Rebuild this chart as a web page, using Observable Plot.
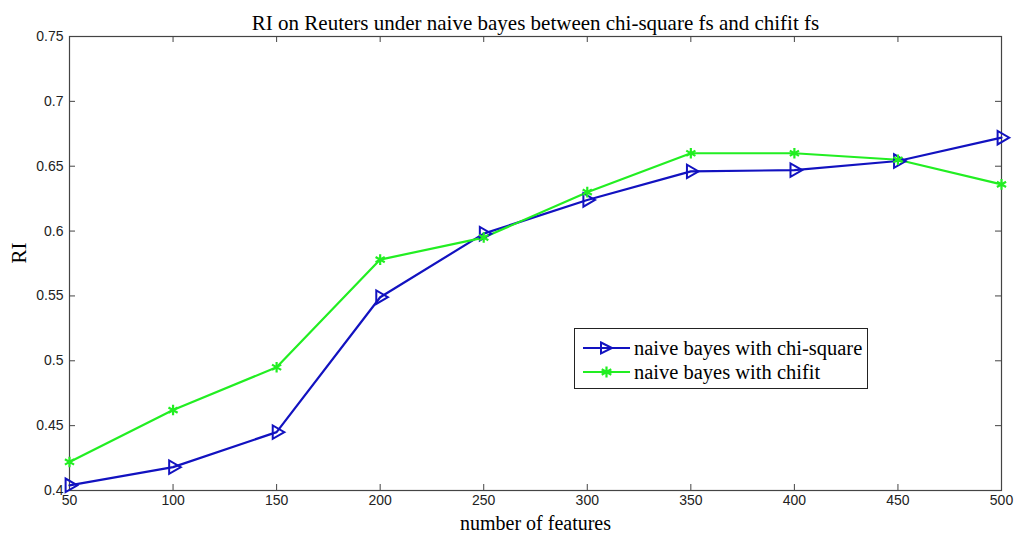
<!DOCTYPE html>
<html>
<head>
<meta charset="utf-8">
<script src="https://cdn.jsdelivr.net/npm/d3@7"></script>
<script src="https://cdn.jsdelivr.net/npm/@observablehq/plot@0.6"></script>
<style>
  html, body { margin: 0; padding: 0; background: #fff; }
  #wrap { position: relative; width: 1016px; height: 542px; }
  #legend {
    position: absolute; left: 574px; top: 328px; width: 294px; height: 61px;
    border: 1px solid #222; background: #fff; box-sizing: border-box;
    font-family: "Liberation Serif", "Times New Roman", serif; font-size: 20.5px; color: #000;
  }
  .row { position: absolute; left: 8px; height: 20px; display: flex; align-items: center; white-space: nowrap; }
  .row svg { margin-right: 4px; flex: none; }
</style>
</head>
<body>
<div id="wrap"></div>
<script>
// Number of selected features (x axis)
const features = [50, 100, 150, 200, 250, 300, 350, 400, 450, 500];
// RI of naive bayes with chi-square feature selection
const chiSquare = [0.404, 0.418, 0.445, 0.549, 0.598, 0.624, 0.646, 0.647, 0.654, 0.672];
// RI of naive bayes with chifit feature selection
const chifit = [0.422, 0.462, 0.495, 0.578, 0.595, 0.630, 0.660, 0.660, 0.655, 0.636];

const xTicks = [50, 100, 150, 200, 250, 300, 350, 400, 450, 500];
const yTicks = [0.4, 0.45, 0.5, 0.55, 0.6, 0.65, 0.7, 0.75];

const blue = "#1212c0";
const green = "#22ee22";
const serif = "'Liberation Serif', 'Times New Roman', serif";

const chiRows = features.map((f, i) => ({f, v: chiSquare[i]}));
const fitRows = features.map((f, i) => ({f, v: chifit[i]}));

const W = 1016, H = 542;
const mL = 69, mR = 15, mT = 36, mB = 52;
const pw = W - mL - mR, ph = H - mT - mB;
const tick = 6;

const chart = Plot.plot({
  width: W, height: H,
  marginLeft: mL, marginRight: mR, marginTop: mT, marginBottom: mB,
  style: {fontFamily: "'Liberation Sans', Arial, sans-serif", fontSize: "14px", color: "#222", background: "#fff"},
  x: {domain: [50, 500]},
  y: {domain: [0.4, 0.75]},
  marks: [
    Plot.frame({stroke: "#444", strokeWidth: 1.2}),
    // inward tick marks on all four sides
    Plot.tickX(xTicks, {x: d => d, insetTop: ph - tick, stroke: "#444"}),
    Plot.tickX(xTicks, {x: d => d, insetBottom: ph - tick, stroke: "#444"}),
    Plot.tickY(yTicks, {y: d => d, insetRight: pw - tick, stroke: "#444"}),
    Plot.tickY(yTicks, {y: d => d, insetLeft: pw - tick, stroke: "#444"}),
    Plot.axisX({ticks: xTicks, tickSize: 0, tickPadding: 5, label: null, fill: "#222"}),
    Plot.axisY({ticks: yTicks, tickSize: 0, tickPadding: 6, label: null, tickFormat: d => String(+d.toFixed(2)), fill: "#222"}),
    // series
    Plot.line(chiRows, {x: "f", y: "v", stroke: blue, strokeWidth: 2.2}),
    Plot.line(fitRows, {x: "f", y: "v", stroke: green, strokeWidth: 2.2}),
    Plot.dot(chiRows, {x: "f", y: "v", symbol: "triangle", rotate: 90, r: 5, stroke: blue, strokeWidth: 2, fill: "none"}),
    Plot.dot(fitRows, {x: "f", y: "v", symbol: "asterisk", r: 5, stroke: green, strokeWidth: 2.2}),
    // titles
    Plot.text(["RI on Reuters under naive bayes between chi-square fs and chifit fs"], {
      frameAnchor: "top", dy: -21, fontSize: 21, fontFamily: serif, fill: "#000"
    }),
    Plot.text(["number of features"], {
      frameAnchor: "bottom", dy: 39, fontSize: 20, fontFamily: serif, fill: "#000"
    }),
    Plot.text(["RI"], {
      frameAnchor: "left", dx: -50, rotate: -90, fontSize: 21, fontFamily: serif, fill: "#000"
    })
  ]
});

const wrap = document.getElementById("wrap");
wrap.appendChild(chart);

// legend box
const legend = document.createElement("div");
legend.id = "legend";
const entries = [
  {label: "naive bayes with chi-square", color: blue, kind: "tri", top: 9},
  {label: "naive bayes with chifit", color: green, kind: "ast", top: 33}
];
for (const e of entries) {
  const row = document.createElement("div");
  row.className = "row";
  row.style.top = e.top + "px";
  const s = d3.create("svg").attr("width", 47).attr("height", 20);
  s.append("line").attr("x1", 0).attr("x2", 47).attr("y1", 10).attr("y2", 10)
    .attr("stroke", e.color).attr("stroke-width", 2.2);
  if (e.kind === "tri") {
    s.append("path").attr("d", "M18,4.5 L29,10 L18,15.5 Z").attr("fill", "none")
      .attr("stroke", e.color).attr("stroke-width", 2);
  } else {
    s.append("path").attr("d", "M23.5,4.5 V15.5 M18.7,7.2 L28.3,12.8 M18.7,12.8 L28.3,7.2")
      .attr("stroke", e.color).attr("stroke-width", 2.2);
  }
  row.appendChild(s.node());
  const t = document.createElement("span");
  t.textContent = e.label;
  row.appendChild(t);
  legend.appendChild(row);
}
wrap.appendChild(legend);
</script>
</body>
</html>
